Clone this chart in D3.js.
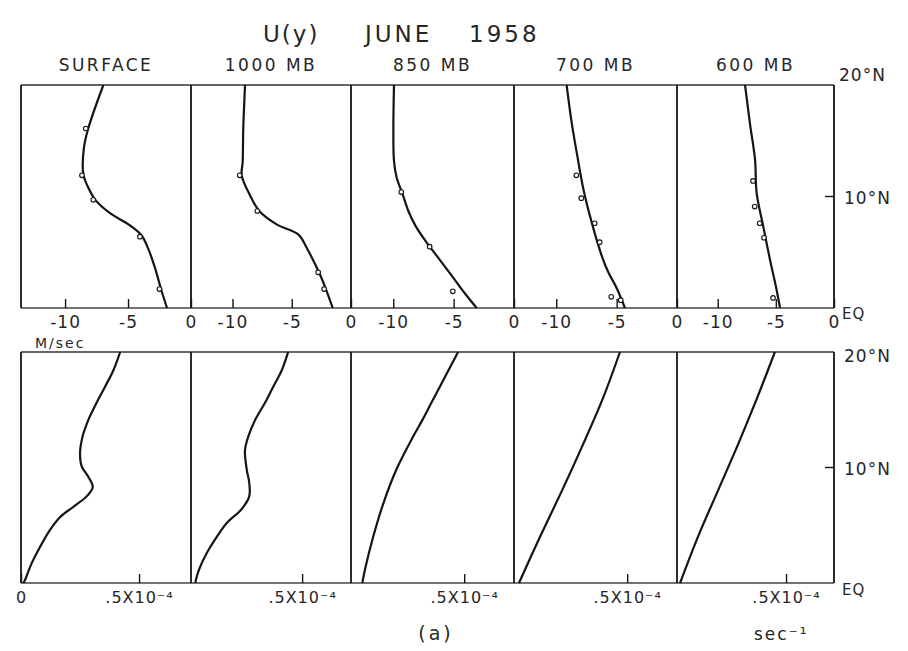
<!DOCTYPE html>
<html><head><meta charset="utf-8">
<script src="https://cdn.jsdelivr.net/npm/d3@7"></script>
<style>
body{margin:0;background:#fff}
text{font-family:"DejaVu Sans",sans-serif;fill:#262626;font-weight:normal}
</style>
</head><body><svg id="c" width="908" height="651"></svg>
<script>
// ---------- data ----------
const panels = ["SURFACE", "1000 MB", "850 MB", "700 MB", "600 MB"];
const uTicks = [-10, -5, 0];
const sTicks = [0.5];
const sTickLabel = ".5X10⁻⁴";
const latLabels = ["20°N", "10°N", "EQ"];

// U(y), m/sec : [latitude °N, U]
const uSurface = [[0,-1.9],[1.5,-2.33],[3.6,-2.86],[5.3,-3.39],[6.5,-3.92],[7.4,-4.84],[8.5,-6.43],[9.7,-7.6],[10.9,-8.2],[12.0,-8.55],[14.4,-8.5],[16.1,-8.16],[20,-6.96]];
const u1000 = [[0,-1.54],[1.5,-2.05],[3.0,-2.62],[5.4,-3.74],[6.6,-4.45],[7.5,-6.27],[8.7,-7.74],[10.1,-8.52],[11.9,-9.22],[13.1,-9.14],[16.1,-9.09],[20,-8.94]];
const u850 = [[0,-3.09],[1.3,-4.06],[2.9,-5.16],[4.3,-6.13],[5.8,-7.18],[7.3,-8.12],[8.7,-8.75],[10.2,-9.22],[11.7,-9.72],[13.2,-9.94],[16.1,-9.99],[20,-9.94]];
const u700 = [[0,-4.31],[1.8,-5.0],[3.2,-5.69],[4.7,-6.24],[7.7,-7.07],[10.7,-7.76],[13.6,-8.25],[16.6,-8.72],[20,-9.14]];
const u600 = [[0,-4.64],[1.9,-4.99],[4.3,-5.5],[7.3,-6.08],[10.3,-6.65],[13.3,-6.79],[16.5,-7.22],[20,-7.65]];

// observed points (small circles) on U(y)
const obsSurface = [[16.1,-8.2],[11.9,-8.5],[9.7,-7.6],[6.4,-3.9],[1.7,-2.35]];
const obs1000 = [[11.9,-9.22],[8.7,-7.74],[3.2,-2.6],[1.7,-2.1]];
const obs850 = [[10.4,-9.17],[5.5,-6.82],[1.5,-4.9]];
const obs700 = [[11.9,-8.17],[9.85,-7.76],[7.6,-6.65],[5.9,-6.24],[1.0,-5.28],[0.7,-4.5]];
const obs600 = [[11.4,-6.79],[9.1,-6.65],[7.6,-6.22],[6.3,-5.85],[0.9,-5.07]];

// -dU/dy, units of 1e-4 sec^-1 : [latitude °N, value]
const sSurface = [[0,0.01],[0.26,0.017],[1.7,0.045],[3.1,0.08],[4.6,0.123],[5.7,0.165],[6.6,0.222],[7.5,0.278],[8.3,0.304],[9.2,0.285],[10.1,0.257],[11.2,0.25],[12.7,0.261],[14.1,0.285],[15.6,0.32],[17.0,0.356],[18.4,0.391],[20,0.42]];
const s1000 = [[0,0.02],[0.26,0.022],[1.2,0.037],[2.6,0.071],[4.0,0.116],[5.2,0.161],[6.4,0.228],[7.5,0.262],[8.7,0.262],[9.8,0.251],[11.5,0.243],[12.7,0.258],[14.1,0.288],[15.6,0.333],[17.0,0.37],[18.4,0.408],[20,0.437]];
const s850 = [[0,0.05],[1.2,0.062],[4.0,0.098],[6.9,0.143],[9.8,0.2],[12.7,0.275],[14.1,0.315],[15.6,0.355],[18.4,0.43],[20,0.473]];
const s700 = [[0,0.022],[4,0.115],[8,0.212],[12,0.305],[16,0.393],[20,0.468]];
const s600 = [[0,0.014],[4,0.096],[8,0.188],[12,0.28],[16,0.367],[20,0.449]];

const uSeries = [uSurface, u1000, u850, u700, u600];
const obsSeries = [obsSurface, obs1000, obs850, obs700, obs600];
const sSeries = [sSurface, s1000, s850, s700, s600];

// ---------- layout ----------
const edges = [21, 191, 351, 514, 677, 834];
const svg = d3.select("#c");
const topY = d3.scaleLinear().domain([0, 20]).range([308, 85]);
const botY = d3.scaleLinear().domain([0, 20]).range([583, 352]);
const ink = "#151515";

// title
svg.append("text").attr("x", 263).attr("y", 42).style("font-size", "23px").style("letter-spacing", "2px").text("U(y)");
svg.append("text").attr("x", 365).attr("y", 42).style("font-size", "23px").style("letter-spacing", "3px").text("JUNE");
svg.append("text").attr("x", 469).attr("y", 42).style("font-size", "23px").style("letter-spacing", "3px").text("1958");

function frame(yScale) {
  const y0 = yScale(20), y1 = yScale(0);
  svg.append("line").attr("x1", edges[0]).attr("x2", edges[5]).attr("y1", y0).attr("y2", y0)
    .attr("stroke", "#333").attr("stroke-width", 1.6);
  svg.append("line").attr("x1", edges[0]).attr("x2", edges[5]).attr("y1", y1).attr("y2", y1)
    .attr("stroke", "#444").attr("stroke-width", 1.6);
  edges.forEach(x => svg.append("line").attr("x1", x).attr("x2", x).attr("y1", y0).attr("y2", y1)
    .attr("stroke", ink).attr("stroke-width", 1.8));
  svg.append("line").attr("x1", edges[5] - 9).attr("x2", edges[5]).attr("y1", yScale(10)).attr("y2", yScale(10))
    .attr("stroke", ink).attr("stroke-width", 1.4);
}
frame(topY);
frame(botY);

panels.forEach((name, i) => {
  const L = edges[i], R = edges[i + 1];
  const xu = d3.scaleLinear().domain([-13.5, 0]).range([L, R]);
  const xs = d3.scaleLinear().domain([0, 0.72]).range([L, R]);

  svg.append("text").attr("x", (L + R) / 2).attr("y", 71).attr("text-anchor", "middle")
    .style("font-size", "17px").style("letter-spacing", "2.5px").text(name);

  const ga = svg.append("g").attr("transform", `translate(0,${topY(0)})`)
    .call(d3.axisBottom(xu).tickValues(uTicks).tickSizeInner(-9).tickSizeOuter(0).tickPadding(8)
      .tickFormat(d => d === 0 ? "0" : String(d)));
  ga.select(".domain").remove();
  ga.selectAll(".tick line").attr("stroke", ink).attr("stroke-width", 1.4);
  ga.selectAll("text").style("font-size", "17px").style("font-family", '"DejaVu Sans",sans-serif')
    .attr("fill", "#262626").style("letter-spacing", "1px");

  const gb = svg.append("g").attr("transform", `translate(0,${botY(0)})`)
    .call(d3.axisBottom(xs).tickValues(i === 0 ? [0].concat(sTicks) : sTicks).tickSizeInner(-9).tickSizeOuter(0).tickPadding(9)
      .tickFormat(d => d === 0 ? "0" : sTickLabel));
  gb.select(".domain").remove();
  gb.selectAll(".tick line").attr("stroke", ink).attr("stroke-width", 1.4);
  gb.selectAll("text").style("font-size", "16px").style("font-family", '"DejaVu Sans",sans-serif')
    .attr("fill", "#262626").style("letter-spacing", "1px");

  const lineU = d3.line().x(d => xu(d[1])).y(d => topY(d[0])).curve(d3.curveCatmullRom.alpha(0.5));
  svg.append("path").datum(uSeries[i]).attr("d", lineU).attr("fill", "none")
    .attr("stroke", ink).attr("stroke-width", 2.2).attr("stroke-linejoin", "round");
  svg.append("g").selectAll("circle").data(obsSeries[i]).join("circle")
    .attr("cx", d => xu(d[1]) - 2).attr("cy", d => topY(d[0])).attr("r", 2.3)
    .attr("fill", "#fff").attr("stroke", ink).attr("stroke-width", 1.1);

  const lineS = d3.line().x(d => xs(d[1])).y(d => botY(d[0])).curve(d3.curveCatmullRom.alpha(0.5));
  svg.append("path").datum(sSeries[i]).attr("d", lineS).attr("fill", "none")
    .attr("stroke", ink).attr("stroke-width", 2.2).attr("stroke-linejoin", "round");
});

const lx = edges[5] + 5;
svg.append("text").attr("x", lx).attr("y", topY(20) - 4).style("font-size", "17px").style("letter-spacing", "1px").text(latLabels[0]);
svg.append("text").attr("x", lx + 5).attr("y", topY(10) + 7).style("font-size", "17px").style("letter-spacing", "1px").text(latLabels[1]);
svg.append("text").attr("x", lx + 3).attr("y", topY(0) + 11).style("font-size", "15px").style("letter-spacing", "1px").text(latLabels[2]);
svg.append("text").attr("x", lx + 5).attr("y", botY(20) + 10).style("font-size", "17px").style("letter-spacing", "1px").text(latLabels[0]);
svg.append("text").attr("x", lx + 5).attr("y", botY(10) + 7).style("font-size", "17px").style("letter-spacing", "1px").text(latLabels[1]);
svg.append("text").attr("x", lx + 3).attr("y", botY(0) + 12).style("font-size", "15px").style("letter-spacing", "1px").text(latLabels[2]);

svg.append("text").attr("x", 35).attr("y", 348).style("font-size", "14px").style("letter-spacing", "2px").text("M/sec");
svg.append("text").attr("x", 436).attr("y", 640).attr("text-anchor", "middle").style("font-size", "19px").style("letter-spacing", "3px").text("(a)");
svg.append("text").attr("x", 754).attr("y", 640).style("font-size", "17px").style("letter-spacing", "2px").text("sec⁻¹");
</script>
</body></html>
